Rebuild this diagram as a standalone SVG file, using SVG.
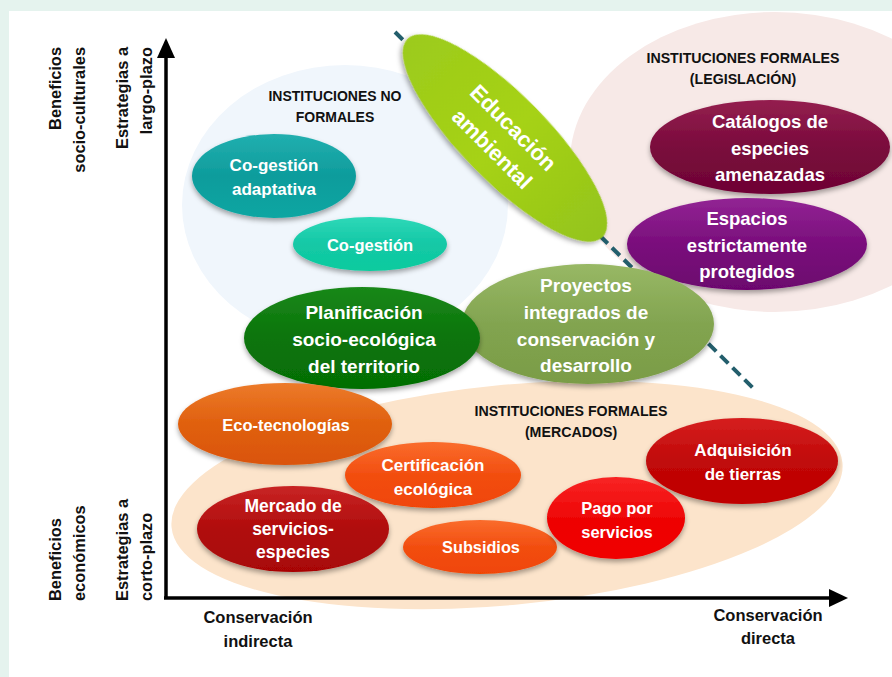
<svg xmlns="http://www.w3.org/2000/svg" width="892" height="677" viewBox="0 0 892 677">
<style>
.lbl{font-family:"Liberation Sans",Arial,sans-serif;font-weight:bold;fill:#111;text-anchor:middle}
.ax{font-family:"Liberation Sans",Arial,sans-serif;font-weight:bold;fill:#111;font-size:16.4px}
.nt{font-family:"Liberation Sans",Arial,sans-serif;font-weight:bold;fill:#fff;text-anchor:middle}
.node ellipse{filter:url(#sh)}
</style>
<defs>
<filter id="sh" x="-20%" y="-20%" width="140%" height="150%">
<feDropShadow dx="0" dy="3" stdDeviation="2.5" flood-color="#000" flood-opacity="0.35"/>
</filter>
<linearGradient id="gTeal" x1="0" y1="0" x2="0" y2="1"><stop offset="0" stop-color="#22AFAF"/><stop offset="0.5" stop-color="#0E9C9C"/><stop offset="1" stop-color="#08A6A2"/></linearGradient>
<linearGradient id="gTurq" x1="0" y1="0" x2="0" y2="1"><stop offset="0" stop-color="#2ED8B8"/><stop offset="0.5" stop-color="#14C8A6"/><stop offset="1" stop-color="#0CCB9E"/></linearGradient>
<linearGradient id="gGreen" x1="0" y1="0" x2="0" y2="1"><stop offset="0" stop-color="#1A881A"/><stop offset="0.5" stop-color="#0A740A"/><stop offset="1" stop-color="#056E05"/></linearGradient>
<linearGradient id="gOlive" x1="0" y1="0" x2="0" y2="1"><stop offset="0" stop-color="#98B865"/><stop offset="0.5" stop-color="#82A450"/><stop offset="1" stop-color="#7A9C46"/></linearGradient>
<linearGradient id="gLime" x1="0" y1="0" x2="1" y2="0"><stop offset="0" stop-color="#9CCB1C"/><stop offset="0.5" stop-color="#A6D214"/><stop offset="1" stop-color="#94C41C"/></linearGradient>
<linearGradient id="gMaroon" x1="0" y1="0" x2="0" y2="1"><stop offset="0" stop-color="#94204F"/><stop offset="0.5" stop-color="#7A0A3C"/><stop offset="1" stop-color="#6E0434"/></linearGradient>
<linearGradient id="gPurple" x1="0" y1="0" x2="0" y2="1"><stop offset="0" stop-color="#922494"/><stop offset="0.5" stop-color="#7A0E7C"/><stop offset="1" stop-color="#6C066E"/></linearGradient>
<linearGradient id="gOrange" x1="0" y1="0" x2="0" y2="1"><stop offset="0" stop-color="#EC7A2A"/><stop offset="0.5" stop-color="#E0600E"/><stop offset="1" stop-color="#DA5408"/></linearGradient>
<linearGradient id="gOrRed" x1="0" y1="0" x2="0" y2="1"><stop offset="0" stop-color="#FA6C2C"/><stop offset="0.5" stop-color="#F24E10"/><stop offset="1" stop-color="#F04506"/></linearGradient>
<linearGradient id="gDRed" x1="0" y1="0" x2="0" y2="1"><stop offset="0" stop-color="#C82424"/><stop offset="0.5" stop-color="#B00C0C"/><stop offset="1" stop-color="#A80606"/></linearGradient>
<linearGradient id="gRed" x1="0" y1="0" x2="0" y2="1"><stop offset="0" stop-color="#F82424"/><stop offset="0.5" stop-color="#EE0606"/><stop offset="1" stop-color="#F00000"/></linearGradient>
<linearGradient id="gRed2" x1="0" y1="0" x2="0" y2="1"><stop offset="0" stop-color="#D62020"/><stop offset="0.5" stop-color="#C00808"/><stop offset="1" stop-color="#C00000"/></linearGradient>
</defs>

<rect x="0" y="0" width="892" height="677" fill="#E5F3EE"/>
<rect x="9" y="11" width="883" height="666" fill="#FFFFFF"/>

<g id="background-regions">
<ellipse cx="345" cy="205" rx="163" ry="140" fill="#F0F6FC"/>
<ellipse cx="775" cy="162" rx="205" ry="150" fill="#F7E9E7"/>
<ellipse cx="507" cy="495" rx="337" ry="110" transform="rotate(-5.5 507 495)" fill="#FCE4CB"/>
</g>

<g id="region-labels">
<text class="lbl" font-size="14" x="335" y="101">INSTITUCIONES NO</text>
<text class="lbl" font-size="14" x="335" y="122">FORMALES</text>
<text class="lbl" font-size="14.2" x="743" y="63">INSTITUCIONES FORMALES</text>
<text class="lbl" font-size="14.2" x="743" y="84">(LEGISLACIÓN)</text>
<text class="lbl" font-size="14.2" x="571" y="416">INSTITUCIONES FORMALES</text>
<text class="lbl" font-size="14.2" x="571" y="437">(MERCADOS)</text>
</g>

<g id="axes">
<line x1="166" y1="599" x2="166" y2="55" stroke="#000" stroke-width="3.5"/>
<polygon points="157,58 166,38 175,58" fill="#000"/>
<line x1="164" y1="598" x2="831" y2="598" stroke="#000" stroke-width="3.5"/>
<polygon points="829,589 848,598 829,607" fill="#000"/>
</g>

<g id="axis-labels">
<text class="ax" text-anchor="end" transform="translate(61,47) rotate(-90)">Beneficios</text>
<text class="ax" text-anchor="end" transform="translate(85,47) rotate(-90)">socio-culturales</text>
<text class="ax" text-anchor="end" transform="translate(128,47) rotate(-90)">Estrategias a</text>
<text class="ax" text-anchor="end" transform="translate(152,47) rotate(-90)">largo-plazo</text>
<text class="ax" text-anchor="start" transform="translate(61,601) rotate(-90)">Beneficios</text>
<text class="ax" text-anchor="start" transform="translate(85,601) rotate(-90)">económicos</text>
<text class="ax" text-anchor="start" transform="translate(128,601) rotate(-90)">Estrategias a</text>
<text class="ax" text-anchor="start" transform="translate(152,601) rotate(-90)">corto-plazo</text>
<text class="lbl" font-size="16.5" x="258" y="623">Conservación</text>
<text class="lbl" font-size="16.5" x="258" y="647">indirecta</text>
<text class="lbl" font-size="16.5" x="768" y="621">Conservación</text>
<text class="lbl" font-size="16.5" x="768" y="644">directa</text>
</g>

<g id="connectors">
<line x1="395" y1="32" x2="756" y2="391" stroke="#235E6C" stroke-width="4" stroke-dasharray="11,6"/>
</g>

<g id="node-cogestion-adaptativa" class="node">
<ellipse cx="274" cy="176" rx="82" ry="42" fill="url(#gTeal)"/>
<text class="nt" font-size="17" x="274" y="171">Co-gestión</text>
<text class="nt" font-size="17" x="274" y="195">adaptativa</text>
</g>

<g id="node-cogestion" class="node">
<ellipse cx="370" cy="244" rx="77" ry="27" fill="url(#gTurq)"/>
<text class="nt" font-size="16.5" x="370" y="251">Co-gestión</text>
</g>

<g id="node-educacion" class="node">
<ellipse cx="505" cy="138" rx="139" ry="43" transform="rotate(45.5 505 138)" fill="url(#gLime)"/>
<g transform="translate(503,138) rotate(45)">
<text class="nt" font-size="22" x="0" y="-7">Educación</text>
<text class="nt" font-size="22" x="0" y="23">ambiental</text>
</g>
</g>

<g id="node-catalogos" class="node">
<ellipse cx="770" cy="147" rx="120" ry="47" fill="url(#gMaroon)"/>
<text class="nt" font-size="18.5" x="770" y="128">Catálogos de</text>
<text class="nt" font-size="18.5" x="770" y="155">especies</text>
<text class="nt" font-size="18.5" x="770" y="181">amenazadas</text>
</g>

<g id="node-espacios" class="node">
<ellipse cx="747" cy="244" rx="120" ry="46" fill="url(#gPurple)"/>
<text class="nt" font-size="18.5" x="747" y="225">Espacios</text>
<text class="nt" font-size="18.5" x="747" y="252">estrictamente</text>
<text class="nt" font-size="18.5" x="747" y="278">protegidos</text>
</g>

<g id="node-proyectos" class="node">
<ellipse cx="588" cy="324" rx="126" ry="60" fill="url(#gOlive)"/>
<text class="nt" font-size="19" x="586" y="292">Proyectos</text>
<text class="nt" font-size="19" x="586" y="319">integrados de</text>
<text class="nt" font-size="19" x="586" y="346">conservación y</text>
<text class="nt" font-size="19" x="586" y="372">desarrollo</text>
</g>

<g id="node-planificacion" class="node">
<ellipse cx="362" cy="338" rx="118" ry="51" fill="url(#gGreen)"/>
<text class="nt" font-size="19" x="364" y="319">Planificación</text>
<text class="nt" font-size="19" x="364" y="346">socio-ecológica</text>
<text class="nt" font-size="19" x="364" y="373">del territorio</text>
</g>

<g id="node-ecotecnologias" class="node">
<ellipse cx="285" cy="424" rx="107" ry="41" fill="url(#gOrange)"/>
<text class="nt" font-size="16.5" x="286" y="431">Eco-tecnologías</text>
</g>

<g id="node-certificacion" class="node">
<ellipse cx="433" cy="475" rx="88" ry="33" fill="url(#gOrRed)"/>
<text class="nt" font-size="17" x="433" y="471">Certificación</text>
<text class="nt" font-size="17" x="433" y="495">ecológica</text>
</g>

<g id="node-adquisicion" class="node">
<ellipse cx="742" cy="461" rx="96" ry="43" fill="url(#gRed2)"/>
<text class="nt" font-size="17" x="743" y="456">Adquisición</text>
<text class="nt" font-size="17" x="743" y="480">de tierras</text>
</g>

<g id="node-mercado" class="node">
<ellipse cx="293" cy="529" rx="96" ry="43" fill="url(#gDRed)"/>
<text class="nt" font-size="17.5" x="293" y="512">Mercado de</text>
<text class="nt" font-size="17.5" x="293" y="535">servicios-</text>
<text class="nt" font-size="17.5" x="293" y="558">especies</text>
</g>

<g id="node-subsidios" class="node">
<ellipse cx="480" cy="547" rx="77" ry="27" fill="url(#gOrRed)"/>
<text class="nt" font-size="16.3" x="481" y="553">Subsidios</text>
</g>

<g id="node-pago" class="node">
<ellipse cx="616" cy="518" rx="69" ry="41" fill="url(#gRed)"/>
<text class="nt" font-size="16.5" x="617" y="514">Pago por</text>
<text class="nt" font-size="16.5" x="617" y="538">servicios</text>
</g>
</svg>
